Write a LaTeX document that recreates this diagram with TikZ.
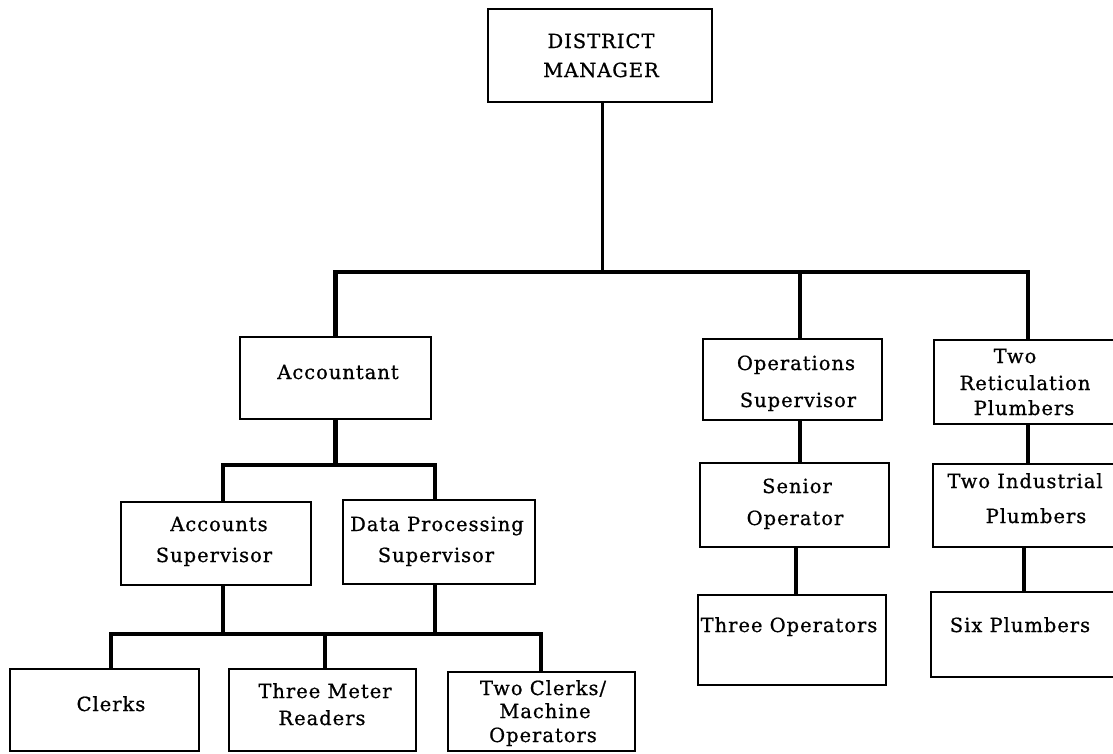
\documentclass[tikz,border=0pt]{standalone}
\usepackage{fontspec}
\setmainfont{DejaVu Serif}[LetterSpace=5, FakeBold=0.8]
\begin{document}
\begin{tikzpicture}[x=1pt,y=-1pt,
  box/.style={draw, line width=1.8pt, inner sep=0pt},
  conn/.style={line width=4.6pt, line join=miter},
  mainconn/.style={line width=3pt},
  txt/.style={anchor=base, inner sep=0pt, font=\fontsize{19.5}{24}\selectfont}]
\useasboundingbox (0,0) rectangle (1113,753);
\clip (0,0) rectangle (1113,753);

% ---- boxes ----
\node[box, minimum width=224pt, minimum height=93pt] (dm) at (600,55.5) {};
\node[box, minimum width=191pt, minimum height=82pt] (acc) at (335.5,378) {};
\node[box, minimum width=190pt, minimum height=83pt] (as) at (216,543.5) {};
\node[box, minimum width=192pt, minimum height=84pt] (dp) at (439,542) {};
\node[box, minimum width=189pt, minimum height=82pt] (clerks) at (104.5,710) {};
\node[box, minimum width=187pt, minimum height=82pt] (tmr) at (322.5,710) {};
\node[box, minimum width=187pt, minimum height=79pt] (tc) at (541.5,711.5) {};
\node[box, minimum width=179pt, minimum height=81pt] (ops) at (792.5,379.5) {};
\node[box, minimum width=189pt, minimum height=84pt] (sen) at (794.5,505) {};
\node[box, minimum width=188pt, minimum height=90pt] (tho) at (792,640) {};
\node[box, minimum width=191pt, minimum height=84pt] (ret) at (1029.5,382) {};
\node[box, minimum width=192pt, minimum height=83pt] (ind) at (1029,505.5) {};
\node[box, minimum width=194pt, minimum height=85pt] (six) at (1028,634.5) {};

% ---- labels, one line each, placed on their baselines ----
\node[txt] (dm-1) at (601,48) {DISTRICT};
\node[txt] (dm-2) at (601,77) {MANAGER};
\node[txt] (acc-1) at (338,379) {Accountant};
\node[txt] (as-1) at (219,531) {Accounts};
\node[txt] (as-2) at (214,562) {Supervisor};
\node[txt] (dp-1) at (437,531) {Data Processing};
\node[txt] (dp-2) at (436,562) {Supervisor};
\node[txt] (clerks-1) at (111,711) {Clerks};
\node[txt] (tmr-1) at (325,698) {Three Meter};
\node[txt] (tmr-2) at (322,725) {Readers};
\node[txt] (tc-1) at (543,695) {Two Clerks/};
\node[txt] (tc-2) at (545,718) {Machine};
\node[txt] (tc-3) at (543,742) {Operators};
\node[txt] (ops-1) at (796,370) {Operations};
\node[txt] (ops-2) at (798,407) {Supervisor};
\node[txt] (sen-1) at (797,493) {Senior};
\node[txt] (sen-2) at (795,525) {Operator};
\node[txt] (tho-1) at (789,632) {Three Operators};
\node[txt] (ret-1) at (1015,363) {Two};
\node[txt] (ret-2) at (1025,390) {Reticulation};
\node[txt] (ret-3) at (1024,415) {Plumbers};
\node[txt] (ind-1) at (1025,488) {Two Industrial};
\node[txt] (ind-2) at (1036,523) {Plumbers};
\node[txt] (six-1) at (1020,632) {Six Plumbers};

% ---- connectors ----
\coordinate (busA) at (0,272);
\coordinate (busB) at (0,465);
\coordinate (busC) at (0,634);

\draw[mainconn] ([xshift=2pt]dm.south) -- ([xshift=2pt]dm.south |- busA);
\draw[conn] (acc.north) -- (acc.north |- busA) -| ([xshift=-1.5pt]ret.north);
\draw[conn] ([xshift=7.5pt]ops.north |- busA) -- ([xshift=7.5pt]ops.north);

\draw[conn] (acc.south) -- (acc.south |- busB);
\draw[conn] ([xshift=7pt]as.north) |- (acc.south |- busB) -| ([xshift=-4pt]dp.north);

\draw[conn] ([xshift=7pt]as.south) -- ([xshift=7pt]as.south |- busC);
\draw[conn] ([xshift=-4pt]dp.south) -- ([xshift=-4pt]dp.south |- busC);
\draw[conn] ([xshift=6.5pt]clerks.north) |- ([xshift=-0.5pt]tc.north |- busC) -- ([xshift=-0.5pt]tc.north);
\draw[conn] ([xshift=2.5pt]tmr.north) -- ([xshift=2.5pt]tmr.north |- busC);

\draw[conn] ([xshift=7.5pt]ops.south) -- ([xshift=5.5pt]sen.north);
\draw[conn] ([xshift=1.5pt]sen.south) -- ([xshift=4pt]tho.north);
\draw[conn] ([xshift=-1.5pt]ret.south) -- ([xshift=-1pt]ind.north);
\draw[conn] ([xshift=-5pt]ind.south) -- ([xshift=-4pt]six.north);
\end{tikzpicture}
\end{document}
